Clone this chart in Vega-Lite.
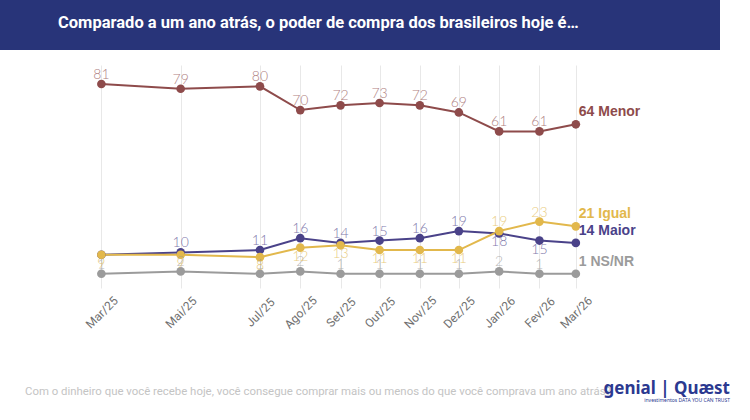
{
  "$schema": "https://vega.github.io/schema/vega-lite/v6.json",
  "padding": 0,
  "background": "white",
  "spacing": 15,
  "title": {
    "text": "genial  |  Quæst",
    "subtitle": "investimentos                  DATA YOU CAN TRUST",
    "orient": "bottom",
    "anchor": "end",
    "offset": -17,
    "dx": -20,
    "font": "Noto Sans",
    "fontSize": 17,
    "fontWeight": "bold",
    "color": "#2b3990",
    "subtitleFont": "Noto Sans",
    "subtitleFontSize": 5,
    "subtitleColor": "#2b3990",
    "subtitlePadding": 0
  },
  "datasets": {
    "pesquisa": [
      {"mes": "2025-03-01", "serie": "Menor", "valor": 81},
      {"mes": "2025-03-01", "serie": "Maior", "valor": 9},
      {"mes": "2025-03-01", "serie": "Igual", "valor": 9},
      {"mes": "2025-03-01", "serie": "NS/NR", "valor": 1},
      {"mes": "2025-05-01", "serie": "Menor", "valor": 79},
      {"mes": "2025-05-01", "serie": "Maior", "valor": 10},
      {"mes": "2025-05-01", "serie": "Igual", "valor": 9},
      {"mes": "2025-05-01", "serie": "NS/NR", "valor": 2},
      {"mes": "2025-07-01", "serie": "Menor", "valor": 80},
      {"mes": "2025-07-01", "serie": "Maior", "valor": 11},
      {"mes": "2025-07-01", "serie": "Igual", "valor": 8},
      {"mes": "2025-07-01", "serie": "NS/NR", "valor": 1},
      {"mes": "2025-08-01", "serie": "Menor", "valor": 70},
      {"mes": "2025-08-01", "serie": "Maior", "valor": 16},
      {"mes": "2025-08-01", "serie": "Igual", "valor": 12},
      {"mes": "2025-08-01", "serie": "NS/NR", "valor": 2},
      {"mes": "2025-09-01", "serie": "Menor", "valor": 72},
      {"mes": "2025-09-01", "serie": "Maior", "valor": 14},
      {"mes": "2025-09-01", "serie": "Igual", "valor": 13},
      {"mes": "2025-09-01", "serie": "NS/NR", "valor": 1},
      {"mes": "2025-10-01", "serie": "Menor", "valor": 73},
      {"mes": "2025-10-01", "serie": "Maior", "valor": 15},
      {"mes": "2025-10-01", "serie": "Igual", "valor": 11},
      {"mes": "2025-10-01", "serie": "NS/NR", "valor": 1},
      {"mes": "2025-11-01", "serie": "Menor", "valor": 72},
      {"mes": "2025-11-01", "serie": "Maior", "valor": 16},
      {"mes": "2025-11-01", "serie": "Igual", "valor": 11},
      {"mes": "2025-11-01", "serie": "NS/NR", "valor": 1},
      {"mes": "2025-12-01", "serie": "Menor", "valor": 69},
      {"mes": "2025-12-01", "serie": "Maior", "valor": 19},
      {"mes": "2025-12-01", "serie": "Igual", "valor": 11},
      {"mes": "2025-12-01", "serie": "NS/NR", "valor": 1},
      {"mes": "2026-01-01", "serie": "Menor", "valor": 61},
      {"mes": "2026-01-01", "serie": "Maior", "valor": 18},
      {"mes": "2026-01-01", "serie": "Igual", "valor": 19},
      {"mes": "2026-01-01", "serie": "NS/NR", "valor": 2},
      {"mes": "2026-02-01", "serie": "Menor", "valor": 61},
      {"mes": "2026-02-01", "serie": "Maior", "valor": 15},
      {"mes": "2026-02-01", "serie": "Igual", "valor": 23},
      {"mes": "2026-02-01", "serie": "NS/NR", "valor": 1},
      {"mes": "2026-03-01", "serie": "Menor", "valor": 64},
      {"mes": "2026-03-01", "serie": "Maior", "valor": 14},
      {"mes": "2026-03-01", "serie": "Igual", "valor": 21},
      {"mes": "2026-03-01", "serie": "NS/NR", "valor": 1}
    ]
  },
  "vconcat": [
    {
      "width": 720,
      "height": 50,
      "view": {"fill": "#283479", "stroke": null},
      "title": {
        "text": "Comparado a um ano atrás, o poder de compra dos brasileiros hoje é…",
        "orient": "top",
        "anchor": "start",
        "offset": -31,
        "dx": 58,
        "font": "Roboto",
        "fontSize": 16.5,
        "fontWeight": "bold",
        "color": "white"
      },
      "data": {"values": []},
      "mark": "text"
    },
    {
      "width": 750,
      "height": 223,
      "data": {"name": "pesquisa"},
      "title": {
        "text": "Com o dinheiro que você recebe hoje, você consegue comprar mais ou menos do que você comprava um ano atrás?",
        "orient": "bottom",
        "anchor": "start",
        "dx": 25,
        "offset": 56,
        "font": "Roboto",
        "fontSize": 11.4,
        "fontWeight": "normal",
        "color": "#c4c4c4"
      },
      "encoding": {
        "x": {
          "field": "mes",
          "type": "temporal",
          "scale": {
            "type": "utc",
            "domain": [
              {"year": 2024, "month": 12, "date": 13, "utc": true},
              {"year": 2026, "month": 7, "date": 13, "utc": true}
            ]
          },
          "axis": {
            "values": [
              {"year": 2025, "month": 3, "date": 1, "utc": true},
              {"year": 2025, "month": 5, "date": 1, "utc": true},
              {"year": 2025, "month": 7, "date": 1, "utc": true},
              {"year": 2025, "month": 8, "date": 1, "utc": true},
              {"year": 2025, "month": 9, "date": 1, "utc": true},
              {"year": 2025, "month": 10, "date": 1, "utc": true},
              {"year": 2025, "month": 11, "date": 1, "utc": true},
              {"year": 2025, "month": 12, "date": 1, "utc": true},
              {"year": 2026, "month": 1, "date": 1, "utc": true},
              {"year": 2026, "month": 2, "date": 1, "utc": true},
              {"year": 2026, "month": 3, "date": 1, "utc": true}
            ],
            "labelExpr": "['Jan','Fev','Mar','Abr','Mai','Jun','Jul','Ago','Set','Out','Nov','Dez'][utcmonth(datum.value)] + '/' + utcFormat(datum.value, '%y')",
            "labelAngle": -45,
            "labelAlign": "center",
            "labelBaseline": "middle",
            "labelFont": "Roboto",
            "labelFontSize": 12,
            "labelColor": "#707070",
            "labelPadding": 24,
            "grid": true,
            "gridColor": "#e8e8e8",
            "domain": false,
            "ticks": false,
            "title": null
          }
        },
        "y": {
          "field": "valor",
          "type": "quantitative",
          "scale": {"domain": [-5, 89], "nice": false, "zero": false},
          "axis": null
        },
        "color": {
          "field": "serie",
          "type": "nominal",
          "scale": {
            "domain": ["Menor", "Igual", "Maior", "NS/NR"],
            "range": ["#8e4b4b", "#e2b84c", "#4a4289", "#9b9b9b"]
          },
          "legend": null
        }
      },
      "layer": [
        {"mark": {"type": "line", "strokeWidth": 2}},
        {"mark": {"type": "circle", "size": 75, "opacity": 1}},
        {
          "transform": [
            {"filter": "!(utcyear(datum.mes) == 2026 && utcmonth(datum.mes) == 2) && !(datum.serie == 'Maior' && utcyear(datum.mes) == 2025 && utcmonth(datum.mes) == 2) && !(datum.serie == 'Igual' && utcyear(datum.mes) == 2025) && !(datum.serie == 'Maior' && utcyear(datum.mes) == 2026)"}
          ],
          "mark": {"type": "text", "dy": -9, "baseline": "middle", "font": "Lato", "fontSize": 14, "fontWeight": 300, "opacity": 0.7},
          "encoding": {"text": {"field": "valor"}}
        },
        {
          "transform": [
            {"filter": "!(utcyear(datum.mes) == 2026 && utcmonth(datum.mes) == 2) && ((datum.serie == 'Igual' && utcyear(datum.mes) == 2025) || (datum.serie == 'Maior' && utcyear(datum.mes) == 2026))"}
          ],
          "mark": {"type": "text", "dy": 9, "baseline": "middle", "font": "Lato", "fontSize": 14, "fontWeight": 300, "opacity": 0.7},
          "encoding": {"text": {"field": "valor"}}
        },
        {
          "transform": [
            {"filter": "utcyear(datum.mes) == 2026 && utcmonth(datum.mes) == 2"},
            {"calculate": "datum.valor + ' ' + datum.serie", "as": "rotulo"}
          ],
          "mark": {"type": "text", "align": "left", "baseline": "middle", "dx": 3, "dy": -12, "font": "Liberation Sans", "fontSize": 14, "fontWeight": "bold"},
          "encoding": {"text": {"field": "rotulo"}}
        }
      ]
    }
  ],
  "config": {
    "view": {"stroke": null},
    "font": "Roboto"
  }
}
